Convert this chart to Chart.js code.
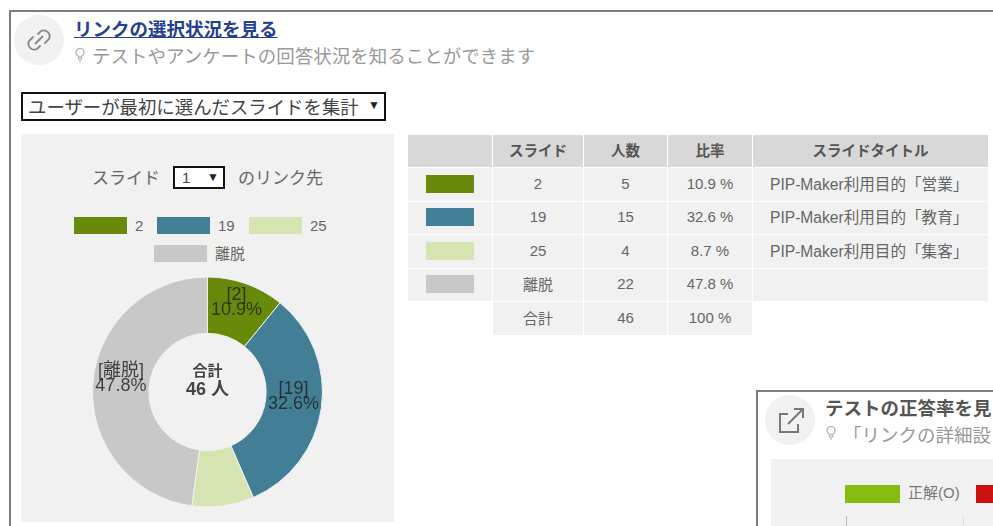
<!DOCTYPE html>
<html lang="ja">
<head>
<meta charset="utf-8">
<title>リンクの選択状況を見る</title>
<script src="https://cdn.jsdelivr.net/npm/chart.js@4"></script>
<style>
  html, body { margin: 0; padding: 0; background: #fff; }
  body { width: 993px; height: 526px; overflow: hidden; position: relative;
         font-family: "Liberation Sans", "Noto Sans CJK JP", sans-serif; color: #666; }
  #page { position: absolute; left: 0; top: 0; width: 993px; height: 526px; overflow: hidden; filter: blur(0.6px); }
  .abs { position: absolute; white-space: nowrap; }
  .frame { border: 2px solid #7d7d7d; box-sizing: border-box; background: #fff; }
  .circle { border-radius: 50%; background: #f1f1f1; }
  .drop { border: 2px solid #111; background: #fff; box-sizing: border-box; color: #444; }
  .arrow { font-size: 12px; color: #222; }
  #panel { left: 21px; top: 134px; width: 373px; height: 388px; background: #f1f1f1; }
  #legend div { position: absolute; }
  #donut { position: absolute; left: 21px; top: 270px; }
  #stats { position: absolute; left: 407px; top: 134px; border-collapse: separate; border-spacing: 1px; font-size: 15px; color: #666; table-layout: fixed; }
  #stats th { background: #d8d8d8; height: 32px; padding: 0 0 3px; box-sizing: border-box; font-size: 14.5px; color: #555; }
  #stats td { background: #f1f1f1; height: 32.5px; padding: 0 0 2px; box-sizing: border-box; text-align: center; }
  #stats td.blank { background: #fff; }
  #stats td.title { text-align: left; padding: 0 0 3px 17px; font-size: 15.6px; }
  .swatch { display: inline-block; width: 48px; height: 18px; vertical-align: middle; }
</style>
</head>
<body>
<div id="page">
  <div class="abs frame" style="left:9px;top:10px;width:1000px;height:530px"></div>
  <div class="abs circle" style="left:14px;top:15px;width:50px;height:50px"></div>
  <svg class="abs" style="left:23px;top:24px" width="32" height="32" viewBox="0 0 32 32" fill="none" stroke="#888" stroke-width="1.8" stroke-linecap="round">
    <path d="M15 10 l3 -3 a6 6 0 0 1 8 8 l-4 4"/>
    <path d="M17 22 l-3 3 a6 6 0 0 1 -8 -8 l4 -4"/>
    <path d="M12.5 19.5 L19.5 12.5"/>
  </svg>
  <div class="abs" style="left:74px;top:15px;font-size:18.5px;font-weight:bold;color:#25408f;text-decoration:underline">リンクの選択状況を見る</div>
  <svg class="abs" style="left:74px;top:47px" width="12" height="16" viewBox="0 0 12 16" fill="none" stroke="#aaa" stroke-width="1.2">
    <circle cx="6" cy="5.5" r="4"/><path d="M4.5 10 L4.5 12 L7.5 12 L7.5 10 M5 14 L7 14"/>
  </svg>
  <div class="abs" style="left:92px;top:42px;font-size:18.5px;color:#999">テストやアンケートの回答状況を知ることができます</div>
  <div class="abs drop" style="left:21px;top:92px;width:365px;height:29px;font-size:18.4px;line-height:27px;padding-left:5px">ユーザーが最初に選んだスライドを集計<span class="arrow" style="position:absolute;left:345px;top:-2px">▼</span></div>

  <div class="abs" id="panel"></div>
  <div class="abs" style="left:92px;top:164px;font-size:17px;color:#666">スライド</div>
  <div class="abs drop" style="left:173px;top:166px;width:52px;height:23px;font-size:15px;line-height:19px;padding-left:7px">1<span class="arrow" style="position:absolute;left:32px;top:0">▼</span></div>
  <div class="abs" style="left:238px;top:164px;font-size:17px;color:#666">のリンク先</div>
  <div class="abs" id="legend" style="left:0;top:0"></div>
  <canvas id="donut" width="373" height="244"></canvas>

  <table id="stats">
    <colgroup><col style="width:84px"><col style="width:90px"><col style="width:83px"><col style="width:84px"><col style="width:235px"></colgroup>
    <thead></thead><tbody></tbody>
  </table>

  <div class="abs frame" style="left:756px;top:390px;width:300px;height:200px"></div>
  <div class="abs circle" style="left:765px;top:395px;width:50px;height:50px"></div>
  <svg class="abs" style="left:776px;top:406px" width="30" height="30" viewBox="0 0 30 30" fill="none" stroke="#777" stroke-width="2">
    <path d="M12 8 L4 8 L4 26 L22 26 L22 18"/><path d="M12 18 L26 4 M18 3 L27 3 L27 12"/>
  </svg>
  <div class="abs" style="left:825px;top:394px;font-size:18.5px;font-weight:bold;color:#555">テストの正答率を見</div>
  <svg class="abs" style="left:825px;top:425px" width="12" height="16" viewBox="0 0 12 16" fill="none" stroke="#aaa" stroke-width="1.2">
    <circle cx="6" cy="5.5" r="4"/><path d="M4.5 10 L4.5 12 L7.5 12 L7.5 10 M5 14 L7 14"/>
  </svg>
  <div class="abs" style="left:843px;top:421px;font-size:18.5px;color:#999">「リンクの詳細設</div>
  <div class="abs" style="left:771px;top:459px;width:222px;height:67px;background:#f1f1f1"></div>
  <div class="abs" style="left:845px;top:485px;width:55px;height:18px;background:#86bc10"></div>
  <div class="abs" style="left:908px;top:481px;font-size:15px;color:#777">正解(O)</div>
  <div class="abs" style="left:976px;top:485px;width:17px;height:18px;background:#cc1010"></div>
  <div class="abs" style="left:846px;top:516px;width:1px;height:10px;background:#bbb"></div>
  <div class="abs" style="left:963px;top:516px;width:1px;height:10px;background:#ddd"></div>
</div>

<script>
// Data
const categories = ["2", "19", "25", "離脱"];
const counts = [5, 15, 4, 22];
const percents = [10.9, 32.6, 8.7, 47.8];
const slideTitles = ["PIP-Maker利用目的「営業」", "PIP-Maker利用目的「教育」", "PIP-Maker利用目的「集客」", ""];
const colors = ["#678a0b", "#437e97", "#d6e4b2", "#c8c8c8"];
const tableHeaders = ["", "スライド", "人数", "比率", "スライドタイトル"];
const totalLabel = "合計";
const totalCount = 46;
const totalPercent = 100;
const unit = "人";
const hiddenLabels = ["25"];

// legend rows, positions only
const legendBoxes = [[74, 217], [157, 217], [249, 217], [154, 245]];

// Slice labels and the total in the hole
const donutText = {
  id: "donutText",
  afterDatasetsDraw(chart) {
    const ctx = chart.ctx;
    const arcs = chart.getDatasetMeta(0).data;
    ctx.save();
    ctx.textAlign = "center";
    ctx.textBaseline = "middle";
    ctx.fillStyle = "rgba(30,30,30,0.8)";
    ctx.font = '18px "Liberation Sans", "Noto Sans CJK JP", sans-serif';
    arcs.forEach((arc, i) => {
      if (hiddenLabels.includes(categories[i])) return;
      const p = arc.getCenterPoint();
      ctx.fillText(`[${categories[i]}]`, p.x, p.y - 15);
      ctx.fillText(`${percents[i]}%`, p.x, p.y);
    });
    const cx = arcs[0].x;
    const cy = arcs[0].y;
    ctx.fillStyle = "#444";
    ctx.font = 'bold 15px "Liberation Sans", "Noto Sans CJK JP", sans-serif';
    ctx.fillText(totalLabel, cx, cy - 20);
    ctx.font = 'bold 18px "Liberation Sans", "Noto Sans CJK JP", sans-serif';
    ctx.fillText(`${totalCount} ${unit}`, cx, cy - 2);
    ctx.restore();
  },
};

buildLegend();
buildTable();
createDonut();

function buildLegend() {
  const legend = document.getElementById("legend");
  categories.forEach((name, i) => {
    const [x, y] = legendBoxes[i];
    legend.innerHTML += `<div style="left:${x}px;top:${y}px;width:53px;height:17px;background:${colors[i]}"></div>
      <div style="left:${x + 61}px;top:${y}px;font-size:15px;line-height:17px;color:#666">${name}</div>`;
  });
}

function buildTable() {
  const table = document.getElementById("stats");
  table.tHead.innerHTML = "<tr>" + tableHeaders.map((h) => `<th>${h}</th>`).join("") + "</tr>";
  let rows = "";
  categories.forEach((name, i) => {
    rows += `<tr><td><span class="swatch" style="background:${colors[i]}"></span></td>
      <td>${name}</td><td>${counts[i]}</td><td>${percents[i]} %</td><td class="title">${slideTitles[i]}</td></tr>`;
  });
  rows += `<tr><td class="blank"></td><td>${totalLabel}</td><td>${totalCount}</td><td>${totalPercent} %</td><td class="blank"></td></tr>`;
  table.tBodies[0].innerHTML = rows;
}

function createDonut() {
  const ctx = document.getElementById("donut").getContext("2d");
  new Chart(ctx, {
    type: "doughnut",
    data: {
      labels: categories,
      datasets: [{ data: counts, backgroundColor: colors, borderColor: "#f1f1f1", borderWidth: 1 }],
    },
    options: {
      responsive: false,
      animation: false,
      cutout: "51%",
      layout: { padding: 6.5 },
      plugins: { legend: { display: false }, tooltip: { enabled: false } },
    },
    plugins: [donutText],
  });
}
</script>
</body>
</html>
